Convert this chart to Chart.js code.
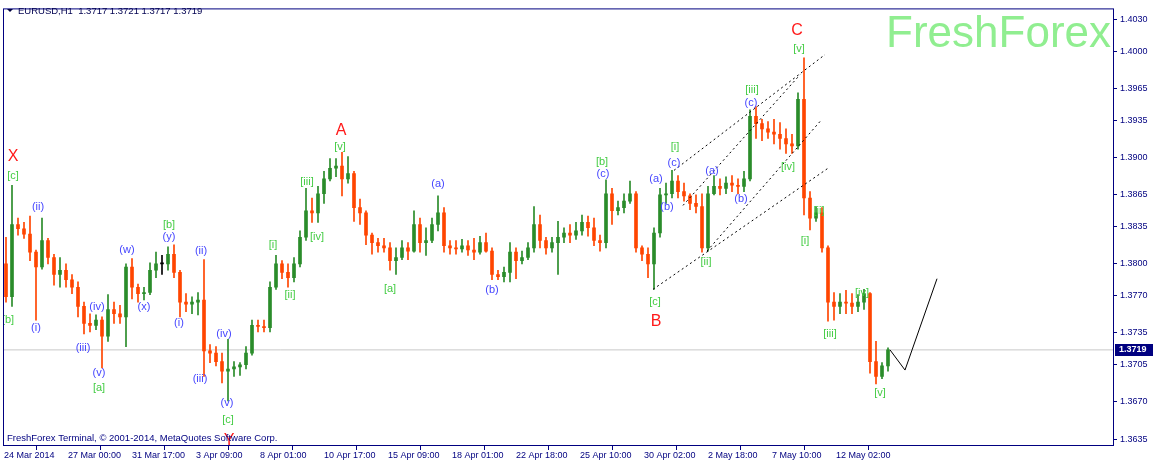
<!DOCTYPE html>
<html>
<head>
<meta charset="utf-8">
<title>EURUSD H1</title>
<script src="https://cdn.jsdelivr.net/npm/chart.js@4.4.1/dist/chart.umd.min.js"></script>
<style>
    html, body { margin: 0; padding: 0; background: #ffffff; }
    #wrap { width: 1154px; height: 464px; }
</style>
</head>
<body>
<div id="wrap"><canvas id="chart" width="1154" height="464"></canvas></div>
<script>
const symbolTitle = 'EURUSD,H1  1.3717 1.3721 1.3717 1.3719';
const footerText = 'FreshForex Terminal, \u00A9 2001-2014, MetaQuotes Software Corp.';
const watermark = 'FreshForex';

// one candle = 6 hourly bars
const hoursPerCandle = 6;
const firstOpen = 1.3800;
const lastPrice = 1.3719;

const closes = [
    1.3769,1.3837,1.3833,1.3828,1.3811,1.3797,1.3822,1.3806,1.3790,1.3794,
    1.3785,1.3778,1.3760,1.3744,1.3742,1.3747,1.3732,1.3757,1.3753,1.3750,
    1.3797,1.3778,1.3772,1.3773,1.3794,1.3800,1.3800,1.3809,1.3792,1.3764,
    1.3762,1.3764,1.3766,1.3718,1.3716,1.3708,1.3699,1.3701,1.3703,1.3705,
    1.3716,1.3742,1.3741,1.3740,1.3778,1.3800,1.3792,1.3787,1.3800,1.3825,
    1.3850,1.3848,1.3866,1.3880,1.3890,1.3892,1.3880,1.3885,1.3853,1.3848,
    1.3827,1.3820,1.3817,1.3815,1.3803,1.3806,1.3815,1.3812,1.3837,1.3820,
    1.3822,1.3837,1.3848,1.3817,1.3815,1.3814,1.3817,1.3813,1.3811,1.3820,
    1.3812,1.3790,1.3788,1.3792,1.3811,1.3803,1.3806,1.3815,1.3837,1.3822,
    1.3815,1.3820,1.3825,1.3829,1.3827,1.3831,1.3839,1.3834,1.3822,1.3820,
    1.3866,1.3850,1.3853,1.3859,1.3866,1.3815,1.3809,1.3800,1.3829,1.3865,
    1.3866,1.3878,1.3868,1.3864,1.3857,1.3854,1.3815,1.3866,1.3873,1.3871,
    1.3876,1.3874,1.3873,1.3880,1.3939,1.3932,1.3927,1.3924,1.3922,1.3918,
    1.3913,1.3911,1.3955,1.3862,1.3843,1.3848,1.3815,1.3764,1.3760,1.3764,
    1.3763,1.3760,1.3764,1.3772,1.3708,1.3694,1.3704,1.3719
];
const highs = [
    1.3825,1.3874,1.3843,1.3839,1.3845,1.3813,1.3843,1.3824,1.3809,1.3806,
    1.3800,1.3790,1.3783,1.3764,1.3753,1.3752,1.3750,1.3771,1.3764,1.3761,
    1.3800,1.3805,1.3781,1.3778,1.3801,1.3811,1.3808,1.3816,1.3818,1.3794,
    1.3772,1.3769,1.3773,1.3804,1.3724,1.3722,1.3716,1.3729,1.3708,1.3707,
    1.3722,1.3747,1.3747,1.3747,1.3783,1.3808,1.3803,1.3800,1.3806,1.3831,
    1.3871,1.3862,1.3873,1.3887,1.3899,1.3899,1.3905,1.3901,1.3887,1.3861,
    1.3850,1.3829,1.3824,1.3824,1.3820,1.3815,1.3822,1.3820,1.3850,1.3843,
    1.3834,1.3843,1.3864,1.3853,1.3822,1.3822,1.3823,1.3822,1.3824,1.3826,
    1.3829,1.3815,1.3794,1.3797,1.3820,1.3815,1.3812,1.3820,1.3854,1.3846,
    1.3825,1.3825,1.3840,1.3834,1.3837,1.3839,1.3846,1.3845,1.3843,1.3827,
    1.3879,1.3871,1.3859,1.3866,1.3878,1.3868,1.3817,1.3815,1.3834,1.3871,
    1.3876,1.3888,1.3883,1.3876,1.3866,1.3865,1.3866,1.3873,1.3883,1.3880,
    1.3882,1.3883,1.3880,1.3887,1.3945,1.3948,1.3936,1.3934,1.3936,1.3933,
    1.3927,1.3922,1.3961,1.3994,1.3868,1.3854,1.3853,1.3817,1.3773,1.3772,
    1.3775,1.3772,1.3771,1.3776,1.3773,1.3727,1.3707,1.3721
];
const lows = [
    1.3764,1.3760,1.3827,1.3824,1.3803,1.3747,1.3795,1.3800,1.3780,1.3778,
    1.3778,1.3772,1.3750,1.3734,1.3736,1.3738,1.3702,1.3727,1.3744,1.3744,
    1.3722,1.3767,1.3764,1.3766,1.3771,1.3787,1.3790,1.3794,1.3787,1.3750,
    1.3755,1.3753,1.3752,1.3694,1.3707,1.3704,1.3688,1.3671,1.3694,1.3695,
    1.3701,1.3714,1.3736,1.3736,1.3736,1.3776,1.3786,1.3778,1.3783,1.3797,
    1.3822,1.3839,1.3839,1.3857,1.3878,1.3882,1.3864,1.3876,1.3840,1.3837,
    1.3818,1.3809,1.3811,1.3811,1.3794,1.3790,1.3804,1.3804,1.3811,1.3811,
    1.3808,1.3820,1.3831,1.3811,1.3809,1.3809,1.3811,1.3808,1.3804,1.3809,
    1.3811,1.3785,1.3785,1.3783,1.3783,1.3786,1.3800,1.3804,1.3811,1.3815,
    1.3809,1.3811,1.3790,1.3820,1.3820,1.3823,1.3827,1.3826,1.3817,1.3812,
    1.3815,1.3837,1.3846,1.3848,1.3857,1.3811,1.3803,1.3787,1.3776,1.3825,
    1.3857,1.3862,1.3862,1.3859,1.3851,1.3848,1.3811,1.3812,1.3865,1.3865,
    1.3866,1.3868,1.3866,1.3868,1.3878,1.3918,1.3916,1.3918,1.3913,1.3908,
    1.3904,1.3904,1.3908,1.3846,1.3832,1.3840,1.3811,1.3746,1.3747,1.3753,
    1.3753,1.3753,1.3755,1.3757,1.3697,1.3687,1.3692,1.3699
];

const timeTickHours = [0, 64, 128, 192, 256, 320, 384, 448, 512, 576, 640, 704, 768, 832];
const timeTickLabels = ['24 Mar 2014', '27 Mar 00:00', '31 Mar 17:00', '3 Apr 09:00', '8 Apr 01:00',
    '10 Apr 17:00', '15 Apr 09:00', '18 Apr 01:00', '22 Apr 18:00', '25 Apr 10:00',
    '30 Apr 02:00', '2 May 18:00', '7 May 10:00', '12 May 02:00'];
const priceTicks = [1.3635, 1.3670, 1.3705, 1.3735, 1.3770, 1.3800, 1.3835, 1.3865,
    1.3900, 1.3935, 1.3965, 1.4000, 1.4030];

// wave marks: [text, hour, price]
const redWaves = [['X', 9, 1.3901], ['A', 337, 1.3925], ['B', 652, 1.3746], ['C', 793, 1.4020], ['Y', 225, 1.3634]];
const greenWaves = [
    ['[b]', 4, 1.3747], ['[c]', 9, 1.3883], ['[a]', 95, 1.3683], ['[b]', 165, 1.3837], ['[c]', 224, 1.3653],
    ['[i]', 269, 1.3818], ['[ii]', 286, 1.3771], ['[iii]', 303, 1.3877], ['[iv]', 313, 1.3825], ['[v]', 336, 1.3910],
    ['[a]', 386, 1.3776], ['[b]', 598, 1.3896], ['[c]', 651, 1.3764], ['[i]', 671, 1.3910], ['[ii]', 702, 1.3802],
    ['[iii]', 748, 1.3964], ['[iv]', 784, 1.3891], ['[v]', 795, 1.4002], ['[i]', 801, 1.3822], ['[ii]', 815, 1.3850],
    ['[iii]', 826, 1.3734], ['[iv]', 858, 1.3773], ['[v]', 876, 1.3678]
];
const blueWaves = [
    ['(ii)', 34, 1.3854], ['(i)', 32, 1.3740], ['(iii)', 79, 1.3721], ['(iv)', 93, 1.3759], ['(v)', 95, 1.3697],
    ['(w)', 123, 1.3813], ['(x)', 140, 1.3759], ['(y)', 165, 1.3825], ['(i)', 175, 1.3744], ['(ii)', 197, 1.3812],
    ['(iii)', 196, 1.3692], ['(iv)', 220, 1.3734], ['(v)', 223, 1.3669], ['(a)', 434, 1.3875], ['(b)', 488, 1.3775],
    ['(c)', 599, 1.3885], ['(a)', 652, 1.3880], ['(b)', 663, 1.3854], ['(c)', 670, 1.3895], ['(a)', 708, 1.3887],
    ['(b)', 737, 1.3861], ['(c)', 747, 1.3951]
];

// channel lines and forecast path
const channelLow = [{x: 649, y: 1.3776}, {x: 824, y: 1.3890}];
const channelMid = [{x: 703, y: 1.3812}, {x: 816, y: 1.3934}];
const channelTop = [{x: 670, y: 1.3888}, {x: 821, y: 1.3997}];
const channelUpper = [{x: 679, y: 1.3855}, {x: 796, y: 1.3978}];
const forecast = [{x: 886, y: 1.3719}, {x: 901, y: 1.3700}, {x: 933, y: 1.3786}];

const fontFamily = "'Liberation Sans', Arial, sans-serif";
const navy = '#000080';
const bullColor = '#2a8c2a';
const bearColor = '#ff4500';
const dojiColor = '#000000';

function candleColor(open, close) {
    if (close > open) return bullColor;
    if (close < open) return bearColor;
    return dojiColor;
}

function buildCandles() {
    const bodies = [];
    const wicks = [];
    const colors = [];
    let open = firstOpen;
    for (let i = 0; i < closes.length; i++) {
        const hour = i * hoursPerCandle + 2;
        bodies.push({ x: hour, y: [open, closes[i]] });
        wicks.push({ x: hour, y: [lows[i], highs[i]] });
        colors.push(candleColor(open, closes[i]));
        open = closes[i];
    }
    return { bodies, wicks, colors };
}

function dashedLine(data) {
    return {
        type: 'line',
        data: data,
        borderColor: '#000000',
        borderWidth: 1,
        borderDash: [2, 3],
        pointRadius: 0,
        tension: 0,
        order: 0
    };
}

function drawWaveGroup(ctx, scales, list, color, font) {
    ctx.fillStyle = color;
    ctx.font = font;
    list.forEach(function (w) {
        const px = scales.x.getPixelForValue(w[1]);
        const py = scales.y.getPixelForValue(w[2]);
        ctx.fillText(w[0], px, py);
    });
}

const waveLabelsPlugin = {
    id: 'waveLabels',
    afterDatasetsDraw(chart) {
        const { ctx, chartArea, scales } = chart;
        ctx.save();
        ctx.beginPath();
        ctx.rect(chartArea.left, chartArea.top, chartArea.right - chartArea.left, chartArea.bottom - chartArea.top);
        ctx.clip();
        ctx.textAlign = 'center';
        ctx.textBaseline = 'middle';
        drawWaveGroup(ctx, scales, greenWaves, '#44cc44', '11px ' + fontFamily);
        drawWaveGroup(ctx, scales, blueWaves, '#4646ff', '11px ' + fontFamily);
        drawWaveGroup(ctx, scales, redWaves, '#ff1a1a', '16px ' + fontFamily);
        ctx.restore();
    }
};

const terminalPlugin = {
    id: 'terminal',
    beforeDatasetsDraw(chart) {
        const { ctx, chartArea } = chart;
        ctx.save();
        ctx.fillStyle = '#90ee90';
        ctx.font = '44px ' + fontFamily;
        ctx.textAlign = 'right';
        ctx.textBaseline = 'alphabetic';
        ctx.fillText(watermark, chartArea.right - 3, 47);
        ctx.restore();
    },
    afterDraw(chart) {
        const { ctx, chartArea, scales } = chart;
        ctx.save();
        // frame
        ctx.strokeStyle = navy;
        ctx.lineWidth = 1;
        ctx.strokeRect(chartArea.left + 0.5, chartArea.top + 0.5,
            chartArea.right - chartArea.left - 1, chartArea.bottom - chartArea.top - 1);

        // header
        ctx.fillStyle = '#000040';
        ctx.beginPath();
        ctx.moveTo(7, 9);
        ctx.lineTo(13, 9);
        ctx.lineTo(10, 12);
        ctx.closePath();
        ctx.fill();
        ctx.font = '9.5px ' + fontFamily;
        ctx.textAlign = 'left';
        ctx.textBaseline = 'middle';
        ctx.fillStyle = '#000050';
        ctx.fillText(symbolTitle, 18, 11);
        ctx.fillStyle = navy;
        ctx.fillText(footerText, 7, 438);

        // last price tag
        const py = Math.round(scales.y.getPixelForValue(lastPrice));
        ctx.fillStyle = navy;
        ctx.fillRect(chartArea.right + 1, py - 6, 38, 12);
        ctx.fillStyle = '#ffffff';
        ctx.font = 'bold 9px ' + fontFamily;
        ctx.fillText(lastPrice.toFixed(4), chartArea.right + 5, py);
        ctx.restore();
    }
};

function drawChart() {
    const candles = buildCandles();
    const ctx = document.getElementById('chart').getContext('2d');
    new Chart(ctx, {
        type: 'bar',
        data: {
            datasets: [
                {
                    type: 'line',
                    data: [{x: -1, y: lastPrice}, {x: 1110, y: lastPrice}],
                    borderColor: '#c8c8c8',
                    borderWidth: 1,
                    pointRadius: 0,
                    order: 10
                },
                {
                    label: 'wicks',
                    data: candles.wicks,
                    backgroundColor: candles.colors,
                    barThickness: 1,
                    grouped: false,
                    order: 3
                },
                {
                    label: 'bodies',
                    data: candles.bodies,
                    backgroundColor: candles.colors,
                    barThickness: 3,
                    minBarLength: 1,
                    grouped: false,
                    order: 2
                },
                dashedLine(channelLow),
                dashedLine(channelMid),
                dashedLine(channelTop),
                dashedLine(channelUpper),
                {
                    type: 'line',
                    data: forecast,
                    borderColor: '#000000',
                    borderWidth: 1,
                    pointRadius: 0,
                    tension: 0,
                    order: 0
                }
            ]
        },
        options: {
            responsive: false,
            animation: false,
            devicePixelRatio: 1,
            layout: { padding: { left: 3, top: 3, right: 0, bottom: 0 } },
            plugins: { legend: { display: false }, tooltip: { enabled: false } },
            scales: {
                x: {
                    type: 'linear',
                    min: -1,
                    max: 1110,
                    offset: false,
                    border: { display: false },
                    grid: { drawOnChartArea: false, drawTicks: true, tickLength: 4, color: navy },
                    afterBuildTicks: function (scale) {
                        scale.ticks = timeTickHours.map(function (h) { return { value: h }; });
                    },
                    afterFit: function (scale) { scale.height = 18; },
                    ticks: {
                        autoSkip: false,
                        maxRotation: 0,
                        align: 'start',
                        padding: 0,
                        color: navy,
                        font: { family: fontFamily, size: 9 },
                        callback: function (value, index) { return timeTickLabels[index]; }
                    }
                },
                y: {
                    type: 'linear',
                    position: 'right',
                    min: 1.36285,
                    max: 1.40405,
                    border: { display: false },
                    grid: { drawOnChartArea: false, drawTicks: true, tickLength: 3, color: navy },
                    afterBuildTicks: function (scale) {
                        scale.ticks = priceTicks.map(function (p) { return { value: p }; });
                    },
                    afterFit: function (scale) { scale.width = 40; },
                    ticks: {
                        padding: 3,
                        color: navy,
                        font: { family: fontFamily, size: 9 },
                        callback: function (value) { return value.toFixed(4); }
                    }
                }
            }
        },
        plugins: [terminalPlugin, waveLabelsPlugin]
    });
}

drawChart();
</script>
</body>
</html>
